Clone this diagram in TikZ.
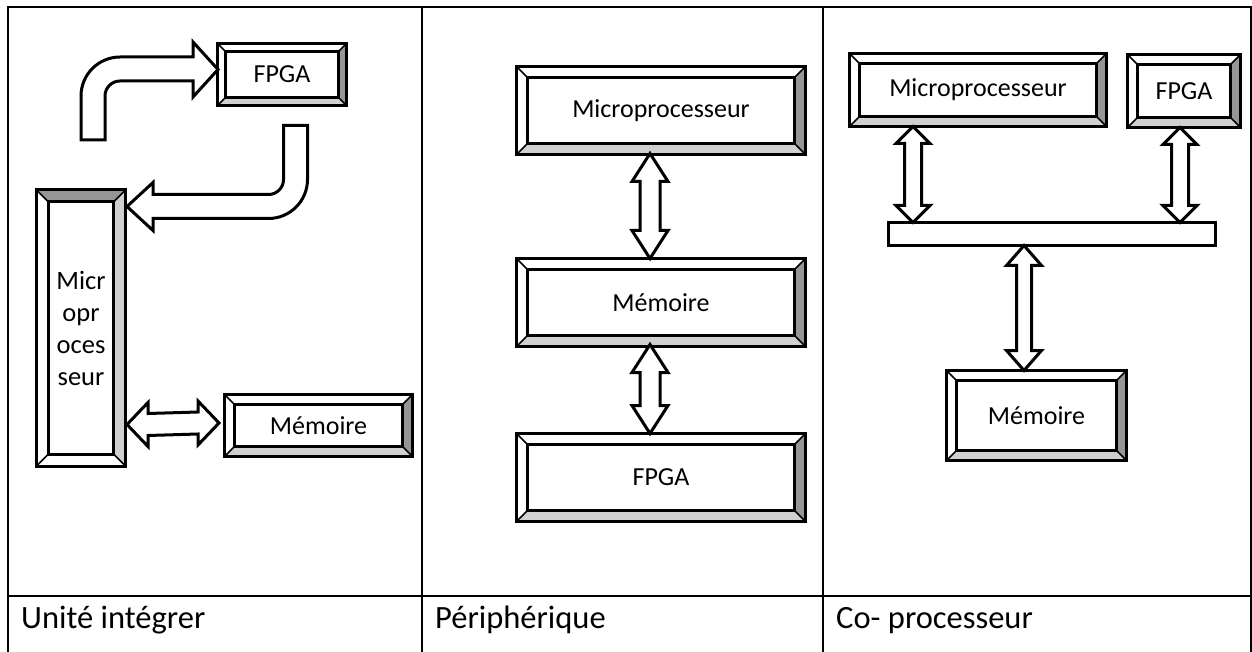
\documentclass[tikz,border=0pt]{standalone}
\usepackage{fontspec}
\setmainfont{Carlito}
\usetikzlibrary{calc}
\definecolor{bevdark}{RGB}{150,150,150}
\definecolor{bevlight}{RGB}{208,208,208}
\tikzset{
  bevbox/.style={inner sep=0pt, outer sep=0pt, font=\fontsize{26pt}{32pt}\selectfont},
  frameline/.style={draw=black, line width=3pt},
  cornerline/.style={draw=black, line width=1.5pt},
  blockarrow/.style={draw=black, fill=white, line width=3pt, line join=miter},
  tablerule/.style={draw=black, line width=2pt},
  caption/.style={inner sep=0pt, font=\fontsize{32.5pt}{38pt}\selectfont},
  busbar/.style={draw=black, line width=3pt, inner sep=0pt, outer sep=0pt}
}
% bevelled frame round a node: name, bevel, top, right, bottom, left colours
\newcommand\bevelframe[6]{%
  \coordinate (#1-o1) at (#1.north west);
  \coordinate (#1-o2) at (#1.north east);
  \coordinate (#1-o3) at (#1.south east);
  \coordinate (#1-o4) at (#1.south west);
  \coordinate (#1-i1) at ($(#1.north west)+(#2,#2)$);
  \coordinate (#1-i2) at ($(#1.north east)+(-#2,#2)$);
  \coordinate (#1-i3) at ($(#1.south east)+(-#2,-#2)$);
  \coordinate (#1-i4) at ($(#1.south west)+(#2,-#2)$);
  \fill[#3] (#1-o1)--(#1-o2)--(#1-i2)--(#1-i1)--cycle;
  \fill[#4] (#1-o2)--(#1-o3)--(#1-i3)--(#1-i2)--cycle;
  \fill[#5] (#1-o3)--(#1-o4)--(#1-i4)--(#1-i3)--cycle;
  \fill[#6] (#1-o4)--(#1-o1)--(#1-i1)--(#1-i4)--cycle;
  \draw[cornerline] (#1-o1)--(#1-i1) (#1-o2)--(#1-i2) (#1-o3)--(#1-i3) (#1-o4)--(#1-i4);
  \draw[frameline] (#1-i1) rectangle (#1-i3);
  \draw[frameline] (#1-o1) rectangle (#1-o3);
}
% vertical double block arrow: top tip, bottom tip, head half width, shaft half width, head length
\newcommand\vbiarrow[5]{%
  \draw[blockarrow] (#1) -- ($(#1)+(#3,#5)$) -- ($(#1)+(#4,#5)$) -- ($(#2)+(#4,-#5)$)
    -- ($(#2)+(#3,-#5)$) -- (#2) -- ($(#2)+(-#3,-#5)$) -- ($(#2)+(-#4,-#5)$)
    -- ($(#1)+(-#4,#5)$) -- ($(#1)+(-#3,#5)$) -- cycle;}
% horizontal double block arrow: left tip, right tip, head half width, shaft half width, head length
\newcommand\hbiarrow[5]{%
  \draw[blockarrow] (#1) -- ($(#1)+(#5,-#3)$) -- ($(#1)+(#5,-#4)$) -- ($(#2)+(-#5,-#4)$)
    -- ($(#2)+(-#5,-#3)$) -- (#2) -- ($(#2)+(-#5,#3)$) -- ($(#2)+(-#5,#4)$)
    -- ($(#1)+(#5,#4)$) -- ($(#1)+(#5,#3)$) -- cycle;}
\begin{document}
\begin{tikzpicture}[x=1pt,y=-1pt]
\useasboundingbox (0,0) rectangle (1252,652);
\fill[white] (0,0) rectangle (1252,652);

% table rules
\draw[tablerule] (8,652) -- (8,7) -- (1251,7) -- (1251,652);
\draw[tablerule] (422,7) -- (422,652);
\draw[tablerule] (823,7) -- (823,652);
\draw[tablerule] (8,596) -- (1251,596);

% captions
\node[caption, anchor=base west] (cap1) at (21,628) {Unité intégrer};
\node[caption, anchor=base west] (cap2) at (435,628) {Périphérique};
\node[caption, anchor=base west] (cap3) at (836,628) {Co- processeur};

% ---- integrated unit ----
\node[bevbox, minimum width=129pt, minimum height=62pt] (fpga1) at (282,74.5) {FPGA};
\bevelframe{fpga1}{8}{white}{bevdark}{bevlight}{white}
\node[bevbox, minimum width=89pt, minimum height=276pt, align=center,
      font=\fontsize{26.5pt}{32pt}\selectfont] (mp1) at (81,328) {Micr\\opr\\oces\\seur};
\bevelframe{mp1}{12}{bevdark}{bevlight}{white}{white}
\node[bevbox, minimum width=188pt, minimum height=62pt] (mem1) at (318.5,425.5) {Mémoire};
\bevelframe{mem1}{10}{white}{bevdark}{bevlight}{white}

% bent arrow into the FPGA
\coordinate (b1tip) at ($(fpga1.west)+(0.5,-5)$);
\begin{scope}[shift={(b1tip)}]
  \draw[blockarrow] (-137,70.5) -- (-137,26.5)
    .. controls (-137,5) and (-119.5,-12.5) .. (-98,-12.5) -- (-25,-12.5) -- (-25,-27.5)
    -- (0,0) -- (-25,27.5) -- (-25,11.5) -- (-98,11.5)
    .. controls (-106.3,11.5) and (-113,18.2) .. (-113,26.5) -- (-113,70.5) -- cycle;
\end{scope}
% bent arrow into the microprocessor
\coordinate (b2tip) at ($(mp1.east)+(1.5,-121.5)$);
\begin{scope}[shift={(b2tip)}]
  \draw[blockarrow] (156.5,-81) -- (180.5,-81) -- (180.5,-27)
    .. controls (180.5,-5.5) and (163,12) .. (141.5,12) -- (26,12) -- (26,24)
    -- (0,0) -- (26,-24) -- (26,-12) -- (141.5,-12)
    .. controls (149.8,-12) and (156.5,-18.7) .. (156.5,-27) -- cycle;
\end{scope}
% microprocessor <-> memory
\coordinate (h1l) at ($(mp1.east)+(1.5,96.5)$);
\coordinate (h1r) at ($(mem1.west)+(-5.5,-2.5)$);
\hbiarrow{h1l}{h1r}{22}{11}{21}

% ---- peripheral ----
\node[bevbox, minimum width=289pt, minimum height=88pt] (mp2) at (661,110.5) {Microprocesseur};
\bevelframe{mp2}{11}{white}{bevdark}{bevlight}{white}
\node[bevbox, minimum width=289pt, minimum height=88pt] (mem2) at (661,302.5) {Mémoire};
\bevelframe{mem2}{11}{white}{bevdark}{bevlight}{white}
\node[bevbox, minimum width=289pt, minimum height=88pt] (fpga2) at (661,477.5) {FPGA};
\bevelframe{fpga2}{11}{white}{bevdark}{bevlight}{white}
\coordinate (v1t) at ($(mp2.south)+(-11,-1)$);
\coordinate (v1b) at ($(mem2.north)+(-11,0)$);
\vbiarrow{v1t}{v1b}{18}{10}{28}
\coordinate (v2t) at ($(mem2.south)+(-11,-2)$);
\coordinate (v2b) at ($(fpga2.north)+(-11,0)$);
\vbiarrow{v2t}{v2b}{18}{10}{28}

% ---- co-processor ----
\node[bevbox, minimum width=257pt, minimum height=73pt] (mp3) at (978,90) {Microprocesseur};
\bevelframe{mp3}{10}{white}{bevdark}{bevlight}{white}
\node[bevbox, minimum width=113pt, minimum height=73pt] (fpga3) at (1184,91) {FPGA};
\bevelframe{fpga3}{10}{white}{bevdark}{bevlight}{white}
\node[busbar, minimum width=327pt, minimum height=23pt] (bus) at (1052,234) {};
\node[bevbox, minimum width=180pt, minimum height=90pt] (mem3) at (1036.5,415.5) {Mémoire};
\bevelframe{mem3}{10}{white}{bevdark}{bevlight}{white}
\coordinate (v3t) at ($(mp3.south)+(-65,0)$);
\coordinate (v3b) at ($(bus.north)+(-139,0)$);
\vbiarrow{v3t}{v3b}{17}{8.5}{17}
\coordinate (v4t) at ($(fpga3.south)+(-4,0)$);
\coordinate (v4b) at ($(bus.north)+(128,0)$);
\vbiarrow{v4t}{v4b}{17}{8.5}{17}
\coordinate (v5t) at ($(bus.south)+(-28,0)$);
\coordinate (v5b) at ($(mem3.north)+(-12.5,0)$);
\vbiarrow{v5t}{v5b}{17.5}{7.5}{20}
\end{tikzpicture}
\end{document}
